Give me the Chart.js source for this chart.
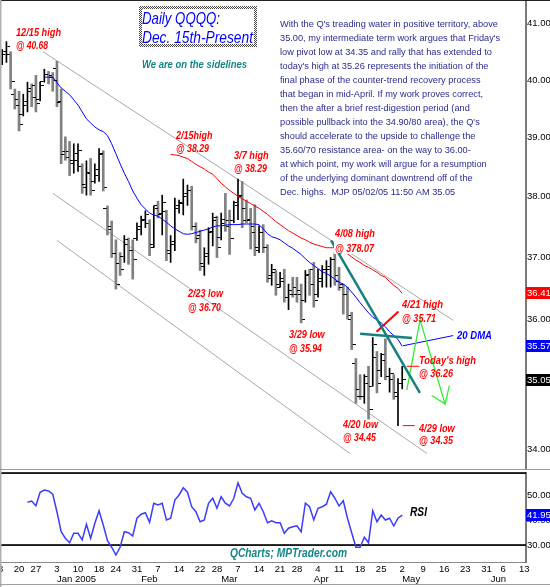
<!DOCTYPE html>
<html>
<head>
<meta charset="utf-8">
<script src="https://cdn.jsdelivr.net/npm/chart.js@4.4.1/dist/chart.umd.min.js"></script>
<style>
  html, body { margin: 0; padding: 0; background: #fff; }
  #wrap { position: relative; width: 550px; height: 587px; overflow: hidden; background: #fff; }
  #main { position: absolute; left: 0; top: 0; }
  #rsi { position: absolute; left: 0; top: 470px; }
</style>
</head>
<body>
<div id="wrap">
  <canvas id="main" width="550" height="470"></canvas>
  <canvas id="rsi" width="550" height="117"></canvas>
</div>
<script>
const fontFam = '"Liberation Sans", Arial, Helvetica, sans-serif';

// ---- trading calendar (NASDAQ sessions, market holidays removed) ----
const holidays = ['2004-12-24', '2005-01-17', '2005-02-21', '2005-03-25', '2005-05-30'];
const tradingDays = [];
for (let d = new Date(Date.UTC(2004, 11, 13)); d <= new Date(Date.UTC(2005, 5, 17)); d.setUTCDate(d.getUTCDate() + 1)) {
  const wd = d.getUTCDay();
  const iso = d.toISOString().slice(0, 10);
  if (wd > 0 && wd < 6 && !holidays.includes(iso)) tradingDays.push(iso);
}
const dayIndex = iso => tradingDays.indexOf(iso);

// ---- QQQQ daily bars, first bar 2004-12-14 ----
const barStart = '2004-12-14';
const open = [
  40.30, 40.45, 40.45, 39.75, 39.65, 39.40, 39.55, 39.80, 39.90, 39.65, 39.98, 40.10, 40.08,
  40.20, 39.60, 38.70, 38.75, 38.60, 38.60, 38.50, 38.20, 38.40, 38.25, 38.35, 38.70, 37.80, 37.50,
  37.05, 36.90, 37.00, 37.20, 37.10, 37.30,
  37.45, 37.60, 37.55, 37.20, 37.85, 37.70, 37.75, 37.10, 37.20, 37.80, 37.90, 38.00, 38.10, 37.50,
  37.30, 36.90, 37.00, 37.40, 37.60,
  37.32, 37.55, 37.60, 37.60, 37.90, 38.00, 37.80, 37.60, 37.50, 37.15, 37.40, 37.15, 36.65, 36.75,
  36.55, 36.65, 36.35, 36.45, 36.50, 36.45, 36.30, 36.70,
  36.80, 36.40, 36.60, 36.80, 36.80, 36.95, 36.70, 36.50, 36.40, 36.00, 35.30, 34.90, 34.80, 35.10,
  34.95, 35.40, 35.20, 35.45, 35.10, 35.05, 34.85,
  35.00
];
const high = [
  40.54, 40.68, 40.50, 39.84, 39.80, 39.75, 39.96, 39.93, 40.08, 39.96, 40.19, 40.15, 40.13,
  40.33, 39.84, 39.01, 38.93, 38.89, 38.89, 38.55, 38.60, 38.64, 38.55, 38.81, 38.77, 37.84, 37.59,
  37.28, 37.07, 37.35, 37.31, 37.28, 37.56,
  37.67, 37.76, 37.61, 37.84, 37.92, 38.02, 37.77, 37.35, 37.97, 37.94, 38.29, 38.19, 38.17, 37.56,
  37.44, 37.15, 37.48, 37.72, 37.67,
  37.72, 38.05, 37.77, 37.92, 38.29, 38.25, 37.94, 37.80, 37.86, 37.51, 37.53, 37.20, 36.88, 36.78,
  36.75, 36.80, 36.56, 36.67, 36.67, 36.56, 36.78, 36.80,
  36.91, 36.80, 36.86, 36.94, 36.99, 37.07, 36.83, 36.56, 36.51, 36.11, 35.38, 35.13, 35.13, 35.26,
  35.71, 35.49, 35.46, 35.69, 35.23, 35.13, 35.07,
  35.26
];
const low = [
  40.27, 40.31, 39.84, 39.49, 39.11, 39.37, 39.44, 39.53, 39.44, 39.63, 39.96, 39.93, 39.80,
  39.53, 38.55, 38.61, 38.35, 38.39, 38.42, 38.05, 38.02, 38.02, 38.22, 38.25, 38.09, 37.36, 36.99,
  36.48, 36.70, 36.91, 36.88, 36.64, 37.27,
  37.36, 37.48, 37.02, 37.15, 37.64, 37.36, 36.94, 36.91, 37.10, 37.72, 37.69, 37.85, 37.44, 37.23,
  36.78, 36.70, 36.88, 37.18, 36.99,
  37.28, 37.42, 37.04, 37.56, 37.61, 37.48, 37.56, 37.13, 37.02, 37.07, 37.07, 36.59, 36.54, 36.38,
  36.51, 36.27, 36.15, 36.35, 36.27, 35.94, 36.27, 36.38,
  36.19, 36.35, 36.51, 36.51, 36.51, 36.54, 36.46, 36.08, 36.00, 35.52, 34.69, 34.75, 34.69, 34.45,
  34.95, 34.85, 35.10, 35.05, 34.86, 34.75, 34.35,
  34.91
];
const close = [
  40.50, 40.60, 39.98, 39.55, 39.22, 39.62, 39.85, 39.70, 39.58, 39.90, 40.10, 40.05, 39.99,
  39.62, 38.75, 38.66, 38.55, 38.72, 38.78, 38.15, 38.38, 38.10, 38.45, 38.72, 38.15, 37.45, 37.05,
  36.55, 36.80, 37.28, 37.10, 36.95, 37.50,
  37.62, 37.70, 37.15, 37.80, 37.72, 37.90, 37.05, 37.25, 37.85, 37.88, 38.05, 38.10, 37.50, 37.35,
  36.85, 37.05, 37.42, 37.65, 37.15,
  37.62, 37.50, 37.30, 37.85, 38.02, 37.60, 37.62, 37.40, 37.10, 37.40, 37.15, 36.70, 36.80, 36.50,
  36.60, 36.35, 36.40, 36.40, 36.40, 36.00, 36.72, 36.55,
  36.30, 36.65, 36.80, 36.85, 36.95, 36.60, 36.55, 36.40, 36.05, 35.60, 34.80, 34.80, 35.00, 34.60,
  35.60, 35.00, 35.35, 35.10, 35.15, 34.80, 35.00,
  35.05
];

// ---- 20-day moving average ----
const dma20Start = '2004-12-29';
const dma20 = [
  40.05, 40.05, 40.05, 39.95, 39.86, 39.80, 39.74, 39.65, 39.56, 39.44, 39.32, 39.25, 39.18,
  39.13, 39.10, 39.03, 38.89, 38.72, 38.55, 38.39, 38.25, 38.09, 37.97, 37.86, 37.79, 37.72,
  37.69, 37.67, 37.62, 37.57, 37.51, 37.46, 37.42, 37.38, 37.37, 37.38, 37.40, 37.42, 37.44,
  37.46, 37.49, 37.51, 37.51, 37.52, 37.53, 37.53, 37.53, 37.54, 37.54, 37.54, 37.54, 37.53,
  37.46, 37.38, 37.33, 37.31, 37.28, 37.23, 37.18, 37.14, 37.09, 37.04, 36.97, 36.91, 36.86,
  36.81, 36.76, 36.73, 36.69, 36.64, 36.59, 36.56, 36.51, 36.43, 36.35, 36.26, 36.18, 36.10,
  36.03, 35.99, 35.94, 35.88, 35.80, 35.74, 35.68, 35.57
];

// ---- 50-day moving average ----
const dma50Start = '2005-02-10';
const dma50 = [
  38.71, 38.70, 38.69, 38.66, 38.64, 38.59, 38.54, 38.50, 38.46, 38.41, 38.37, 38.30, 38.22,
  38.16, 38.10, 38.05, 38.00, 37.96, 37.92, 37.88, 37.84, 37.80, 37.75, 37.70, 37.64, 37.58,
  37.53, 37.48, 37.43, 37.39, 37.35, 37.31, 37.28, 37.24, 37.21, 37.19, 37.17, 37.15, 37.15,
  37.15, 37.12, 37.09, 37.05, 37.00, 36.95, 36.91, 36.86, 36.83, 36.79, 36.75, 36.70, 36.67,
  36.60, 36.54, 36.49, 36.41
];

// ---- RSI ----
const rsiStart = '2004-12-22';
const rsi = [
  47.1, 47.6, 45.7, 51.1, 52.0, 51.6, 50.3, 43.3, 35.3, 32.7,
  30.9, 34.7, 34.7, 32.0, 38.3, 32.7, 38.7, 43.7, 38.0, 31.7,
  29.1, 26.0, 29.1, 35.3, 34.9, 33.6, 40.7, 42.3, 42.9, 39.1,
  46.7, 46.0, 46.7, 40.0, 40.7, 48.0, 50.0, 52.9, 51.1, 45.3,
  43.3, 39.3, 40.0, 46.7, 48.7, 44.7, 49.3, 46.7, 45.6, 48.7,
  54.9, 50.7, 49.3, 48.7, 44.0, 46.7, 43.3, 38.9, 39.7, 38.9,
  38.9, 34.7, 36.7, 37.3, 37.7, 35.3, 46.7, 45.3, 40.0, 44.7,
  45.3, 46.3, 51.3, 48.7, 45.6, 47.7, 40.7, 34.9, 29.1, 29.1,
  33.1, 30.9, 43.7, 39.3, 42.0, 40.0, 40.7, 37.6, 40.7, 41.95
];

const priceTicks = [34, 35, 36, 37, 38, 39, 40, 41];
const rsiTicks = [30, 40, 50];

// ---- hand-drawn study lines (x = trading-day index, y = price) ----
const trendUpper = [{ x: 10.7, y: 40.50 }, { x: 108.1, y: 35.98 }];
const trendMiddle = [{ x: 13.06, y: 38.05 }, { x: 101.9, y: 33.93 }];
const trendLower = [{ x: 14.01, y: 37.27 }, { x: 83.6, y: 33.93 }];
const tealDown = [{ x: 79.1, y: 37.27 }, { x: 100.2, y: 34.85 }];
const tealFlat = [{ x: 86.0, y: 35.77 }, { x: 98.3, y: 35.70 }];
const redSlash = [{ x: 89.9, y: 35.80 }, { x: 95.1, y: 36.12 }];
const todayHighMark = [{ x: 97.1, y: 35.26 }, { x: 100.1, y: 35.26 }];
const lowMark = [{ x: 96.1, y: 34.35 }, { x: 99.0, y: 34.35 }];
const greenPath = [{ x: 97.08, y: 34.89 }, { x: 100.24, y: 35.99 }, { x: 106.18, y: 34.68 }, { x: 107.2, y: 34.96 }];
const greenBarb = [{ x: 103.0, y: 34.81 }, { x: 106.18, y: 34.68 }];
const dmaPointer = [{ x: 96.2, y: 35.58 }, { x: 108.1, y: 35.74 }];

// ---- derived series ----
const series = (start, vals) => vals.map((v, k) => ({ x: dayIndex(start) + k, y: v }));
const b0 = dayIndex(barStart);
const upBars = [], downBars = [], openPts = [], closePts = [];
high.forEach((h, k) => {
  const x = b0 + k;
  (close[k] >= open[k] ? upBars : downBars).push({ x, y: [low[k], h] });
  openPts.push({ x, y: open[k] });
  closePts.push({ x, y: close[k] });
});

// week ticks: first session of each week; month ticks: first session of each month
const weekTicks = [], monthTicks = [];
tradingDays.forEach((iso, i) => {
  const d = new Date(iso + 'T00:00:00Z');
  if (i === 0) { weekTicks.push(i); return; }
  const p = new Date(tradingDays[i - 1] + 'T00:00:00Z');
  if (d.getUTCDay() <= p.getUTCDay()) weekTicks.push(i);
  if (d.getUTCMonth() !== p.getUTCMonth()) monthTicks.push(i);
});
const monthNames = ['Jan', 'Feb', 'Mar', 'Apr', 'May', 'Jun', 'Jul', 'Aug', 'Sep', 'Oct', 'Nov', 'Dec'];

const xMin = 0.475, xMax = 125.4;

// open / close tick glyphs
function tickGlyph(side) {
  const c = document.createElement('canvas');
  c.width = 8; c.height = 1;
  const g = c.getContext('2d');
  g.fillStyle = '#000';
  g.fillRect(side < 0 ? 0 : 5, 0, 3, 1);
  return c;
}

// horizontally fitted text
function txt(ctx, s, x, y, font, color, w) {
  ctx.save();
  ctx.font = font;
  ctx.fillStyle = color;
  ctx.textAlign = 'left';
  ctx.textBaseline = 'alphabetic';
  ctx.translate(x, y);
  if (w) ctx.scale(w / ctx.measureText(s).width, 1);
  ctx.fillText(s, 0, 0);
  ctx.restore();
}

function valueBox(ctx, y, text, bg) {
  const yy = Math.round(y);
  ctx.save();
  ctx.fillStyle = bg;
  ctx.fillRect(526, yy - 6, 24, 12);
  ctx.fillStyle = '#fff';
  ctx.font = `9.5px ${fontFam}`;
  ctx.textBaseline = 'middle';
  ctx.textAlign = 'left';
  ctx.fillText(text, 527, yy + 0.5);
  ctx.restore();
}

const commentary = [
  "With the Q's treading water in positive territory, above",
  "35.00, my intermediate term work argues that Friday's",
  "low pivot low at 34.35 and rally that has extended to",
  "today's high at 35.26 represents the initiation of the",
  "final phase of the counter-trend recovery process",
  "that began in mid-April. If my work proves correct,",
  "then the after a brief rest-digestion period (and",
  "possible pullback into the 34.90/80 area), the Q's",
  "should accelerate to the upside to challenge the",
  "35.60/70 resistance area- on the way to 36.00-",
  "at which point, my work will argue for a resumption",
  "of the underlying dominant downtrend off of the",
  "Dec. highs.  MJP 05/02/05 11:50 AM 35.05"
];

const redFont = `italic bold 10px ${fontFam}`;
const callouts = [
  ['12/15 high', 16, 35.5, 45], ['@ 40.68', 16, 49, 32],
  ['2/15high', 176, 139.3, 36.5], ['@ 38.29', 176, 151.7, 33],
  ['3/7 high', 234, 159.3, 34.7], ['@ 38.29', 234, 171.7, 33],
  ['2/23 low', 188, 297.3, 35], ['@ 36.70', 188, 310.7, 33],
  ['3/29 low', 289, 338, 35.7], ['@ 35.94', 289, 351.7, 33],
  ['4/08 high', 335, 236.7, 40], ['@ 378.07', 335, 251.7, 39],
  ['4/21 high', 402, 308.3, 41], ['@ 35.71', 402, 321.7, 34],
  ["Today's high", 419, 364.3, 57], ['@ 36.26', 419, 377.3, 34],
  ['4/20 low', 343, 428.3, 35], ['@ 34.45', 343, 440.7, 33],
  ['4/29 low', 419, 431.7, 35.7], ['@ 34.35', 419, 444, 34]
];

const mainDecor = {
  id: 'mainDecor',
  beforeDraw(chart) {
    const ctx = chart.ctx;
    ctx.save(); ctx.fillStyle = '#fff'; ctx.fillRect(0, 0, chart.width, chart.height); ctx.restore();
  },
  afterDatasetsDraw(chart) {
    const ctx = chart.ctx;
    // title box with checkered frame
    const pc = document.createElement('canvas'); pc.width = 2; pc.height = 2;
    const pg = pc.getContext('2d'); pg.fillStyle = '#fff'; pg.fillRect(0, 0, 2, 2);
    pg.fillStyle = '#444'; pg.fillRect(0, 0, 1, 1); pg.fillRect(1, 1, 1, 1);
    ctx.save();
    ctx.fillStyle = ctx.createPattern(pc, 'repeat');
    ctx.fillRect(139, 6, 118, 41);
    ctx.fillStyle = '#fff';
    ctx.fillRect(142, 9, 112, 35);
    ctx.restore();
    txt(ctx, 'Daily QQQQ:', 142, 24, `italic 17px ${fontFam}`, '#0000ff', 78);
    txt(ctx, 'Dec. 15th-Present', 142, 42.5, `italic 17px ${fontFam}`, '#0000ff', 111);
    txt(ctx, 'We are on the sidelines', 142, 67.7, `italic bold 10px ${fontFam}`, '#138585', 105);

    // commentary block
    ctx.save();
    ctx.font = `9.5px ${fontFam}`;
    const sx = 218 / ctx.measureText(commentary[0]).width;
    ctx.fillStyle = '#2b2b8e';
    commentary.forEach((line, k) => {
      ctx.save(); ctx.translate(280, 27.3 + 14 * k); ctx.scale(sx, 1); ctx.fillText(line, 0, 0); ctx.restore();
    });
    ctx.restore();

    // callouts
    ctx.save(); ctx.fillStyle = '#fff'; ctx.fillRect(334, 228, 43, 26); ctx.restore();
    callouts.forEach(([s, x, y, w]) => txt(ctx, s, x, y, redFont, '#ff0000', w));
    txt(ctx, '20 DMA', 457, 339.3, redFont, '#0000ff', 35);
  },
  afterDraw(chart) {
    const ctx = chart.ctx, a = chart.chartArea, ys = chart.scales.y;
    ctx.save();
    ctx.fillStyle = '#222'; ctx.fillRect(0, 0, 550, 1);
    ctx.fillStyle = '#b0b0b0'; ctx.fillRect(0, 0, 1.5, chart.height);
    ctx.fillStyle = '#9a9a9a'; ctx.fillRect(0, a.bottom, 550, 1);
    ctx.restore();
    valueBox(ctx, ys.getPixelForValue(dma50[dma50.length - 1]), dma50[dma50.length - 1].toFixed(2), '#ff0000');
    valueBox(ctx, ys.getPixelForValue(dma20[dma20.length - 1]), dma20[dma20.length - 1].toFixed(2), '#0000ff');
    valueBox(ctx, ys.getPixelForValue(close[close.length - 1]), close[close.length - 1].toFixed(2), '#000000');
  }
};

const ln = (data, color, width, order) => ({
  type: 'line', data, borderColor: color, borderWidth: width, pointRadius: 0,
  tension: 0, fill: false, order
});

new Chart(document.getElementById('main'), {
  type: 'scatter',
  data: {
    datasets: [
      ln(tealDown, '#168080', 2.5, 1),
      ln(tealFlat, '#168080', 2.5, 1),
      ln(redSlash, '#ff0000', 2, 1),
      ln(todayHighMark, '#ff0000', 1, 1),
      ln(lowMark, '#ff0000', 1, 1),
      ln(greenPath, '#33ee33', 1.3, 1),
      ln(greenBarb, '#33ee33', 1.3, 1),
      ln(series(dma20Start, dma20), '#0000ff', 1, 2),
      ln(dmaPointer, '#0000ff', 1, 2),
      ln(series(dma50Start, dma50), '#ff0000', 1, 2),
      { type: 'scatter', data: openPts, pointStyle: tickGlyph(-1), pointRadius: 2, order: 3 },
      { type: 'scatter', data: closePts, pointStyle: tickGlyph(1), pointRadius: 2, order: 3 },
      { type: 'bar', data: upBars, backgroundColor: '#000', barThickness: 1, grouped: false, order: 4 },
      { type: 'bar', data: downBars, backgroundColor: '#808080', barThickness: 2, grouped: false, order: 4 },
      ln(trendUpper, '#a8a8a8', 1, 5),
      ln(trendMiddle, '#a8a8a8', 1, 5),
      ln(trendLower, '#a8a8a8', 1, 5)
    ]
  },
  options: {
    responsive: false, animation: false, events: [],
    layout: { padding: { top: 1, bottom: 1, left: 0, right: 0 }, autoPadding: false },
    plugins: { legend: { display: false }, tooltip: { enabled: false } },
    scales: {
      x: { type: 'linear', min: xMin, max: xMax, display: false, offset: false, grid: { offset: false } },
      y: {
        type: 'logarithmic', position: 'right', min: 33.748, max: 41.415,
        grid: { display: false, drawTicks: false },
        border: { display: true, color: '#7a7a7a', width: 2 },
        ticks: { font: { family: fontFam, size: 9.5 }, color: '#000', padding: 1, callback: v => Number(v).toFixed(2) },
        afterBuildTicks: s => { s.ticks = priceTicks.map(v => ({ value: v })); },
        afterFit: s => { s.width = 24; s.paddingTop = 0; s.paddingBottom = 0; }
      }
    }
  },
  plugins: [mainDecor]
});

// ---- RSI panel with date axis ----
const rsiDecor = {
  id: 'rsiDecor',
  beforeDraw(chart) {
    const ctx = chart.ctx;
    ctx.save(); ctx.fillStyle = '#fff'; ctx.fillRect(0, 0, chart.width, chart.height); ctx.restore();
  },
  beforeDatasetsDraw(chart) {
    const ctx = chart.ctx, a = chart.chartArea, ys = chart.scales.y;
    ctx.save();
    ctx.fillStyle = '#000';
    ctx.fillRect(0, a.top - 0.8, a.right, 1.7);
    ctx.fillRect(0, ys.getPixelForValue(30) - 0.8, a.right, 1.7);
    ctx.restore();
    txt(ctx, 'QCharts; MPTrader.com', 230, 87, `italic bold 12px ${fontFam}`, '#158585', 117);
  },
  afterDraw(chart) {
    const ctx = chart.ctx, ys = chart.scales.y;
    ctx.save();
    ctx.fillStyle = '#b0b0b0'; ctx.fillRect(0, 0, 1.5, chart.height);
    ctx.fillStyle = '#a0a0a0'; ctx.fillRect(0, 114, 550, 1);
    ctx.restore();
    txt(ctx, 'RSI', 410, 46, `italic bold 12px ${fontFam}`, '#000', 17);
    const last = rsi[rsi.length - 1];
    valueBox(ctx, ys.getPixelForValue(last), last.toFixed(2), '#0000ff');
  }
};

new Chart(document.getElementById('rsi'), {
  type: 'scatter',
  data: {
    datasets: [ln(series(rsiStart, rsi), '#3c3cff', 1.5, 1)]
  },
  options: {
    responsive: false, animation: false, events: [],
    layout: { padding: { top: 3, bottom: 0, left: 0, right: 0 }, autoPadding: false },
    plugins: { legend: { display: false }, tooltip: { enabled: false } },
    scales: {
      x: {
        type: 'linear', position: 'bottom', weight: 0, min: xMin, max: xMax, offset: false,
        grid: { display: false, drawTicks: false },
        border: { display: true, color: '#8a8a8a', width: 1 },
        ticks: {
          autoSkip: false, maxRotation: 0, padding: 2, color: '#000', font: { family: fontFam, size: 9.5 },
          callback: v => String(Number(tradingDays[v].slice(8, 10)))
        },
        afterBuildTicks: s => { s.ticks = weekTicks.map(v => ({ value: v })); },
        afterFit: s => { s.height = 12; s.paddingLeft = 0; s.paddingRight = 0; }
      },
      x2: {
        type: 'linear', position: 'bottom', weight: 1, min: xMin, max: xMax, offset: false,
        grid: { display: false, drawTicks: false },
        border: { display: false },
        ticks: {
          autoSkip: false, maxRotation: 0, padding: 0, align: 'start', color: '#000', font: { family: fontFam, size: 9.5 },
          callback: v => {
            const d = new Date(tradingDays[v] + 'T00:00:00Z');
            const m = d.getUTCMonth();
            return m === 0 ? `${monthNames[m]} ${d.getUTCFullYear()}` : monthNames[m];
          }
        },
        afterBuildTicks: s => { s.ticks = monthTicks.map(v => ({ value: v })); },
        afterFit: s => { s.height = 13; s.paddingLeft = 0; s.paddingRight = 0; }
      },
      y: {
        type: 'linear', position: 'right', min: 23.2, max: 58.8,
        grid: { display: false, drawTicks: false },
        border: { display: true, color: '#7a7a7a', width: 2 },
        ticks: { font: { family: fontFam, size: 9.5 }, color: '#000', padding: 1, callback: v => Number(v).toFixed(2) },
        afterBuildTicks: s => { s.ticks = rsiTicks.map(v => ({ value: v })); },
        afterFit: s => { s.width = 24; s.paddingTop = 0; s.paddingBottom = 0; }
      }
    }
  },
  plugins: [rsiDecor]
});
</script>
</body>
</html>
